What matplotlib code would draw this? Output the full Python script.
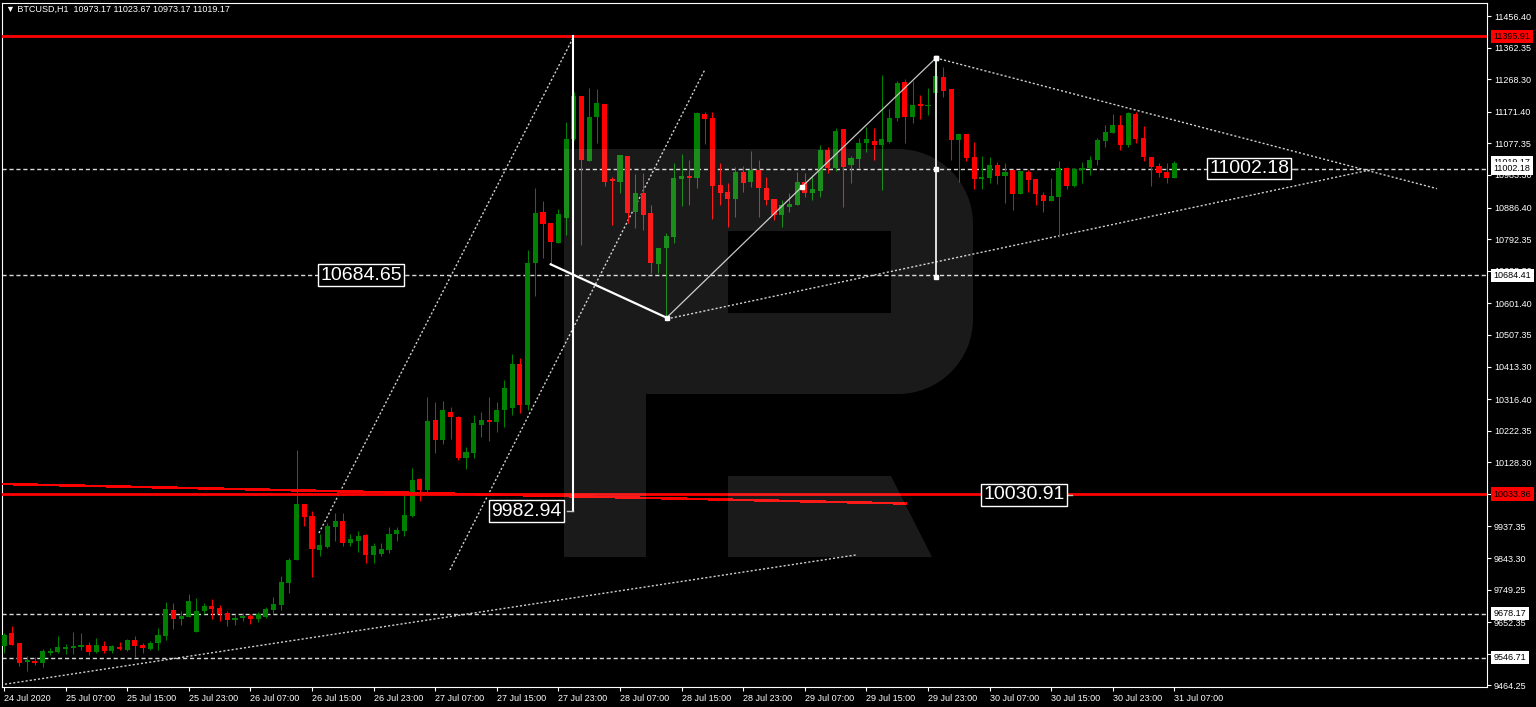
import numpy as np
import pandas as pd
import matplotlib
matplotlib.use('Agg')
import matplotlib.pyplot as plt
from matplotlib.path import Path
from matplotlib.patches import PathPatch
from matplotlib.transforms import IdentityTransform, blended_transform_factory

# BTCUSD H1, bars from 24 Jul 2020 23:00
opens = [9581.5, 9620.0, 9589.5, 9534.0, 9538.0, 9532.0, 9561.6, 9564.5, 9573.4, 9575.0,
         9579.0, 9583.5, 9564.5, 9580.6, 9567.5, 9577.6, 9569.6, 9599.4, 9584.6, 9573.0,
         9590.0, 9611.3, 9688.6, 9660.9, 9669.0, 9623.0, 9686.0, 9700.5, 9694.6, 9680.0,
         9658.9, 9663.8, 9669.7, 9660.9, 9669.0, 9688.6, 9703.5, 9769.9, 9836.6, 10004.0,
         9968.0, 9867.0, 9877.0, 9936.5, 9953.5, 9887.0, 9894.0, 9911.0, 9852.3, 9855.0,
         9867.2, 9914.0, 9924.7, 9968.0, 10077.6, 10045.8, 10254.0, 10194.6, 10278.8, 10263.9,
         10142.0, 10155.0, 10239.2, 10254.0, 10248.6, 10283.8, 10290.0, 10420.0, 10300.0, 10720.4,
         10874.0, 10839.5, 10781.7, 10854.3, 11089.5, 11218.3, 11024.9, 11156.7, 11194.5, 10972.0,
         10963.0, 11039.7, 10874.0, 10930.5, 10871.0, 10718.3, 10765.0, 10799.6, 10972.0, 10980.0,
         10975.0, 11163.7, 11152.0, 10953.4, 10931.7, 10911.8, 10993.0, 10963.0, 10998.3, 10945.4,
         10911.8, 10864.2, 10888.9, 10893.9, 10961.5, 10928.7, 10936.5, 11057.6, 11003.2, 11119.1,
         11013.0, 11031.7, 11079.3, 11084.4, 11072.5, 11082.3, 11152.0, 11260.9, 11154.9, 11193.6,
         11188.5, 11226.3, 11273.9, 11238.2, 11087.4, 11105.2, 11035.8, 10970.4, 10975.2, 11012.8,
         10980.2, 10998.3, 10925.8, 10991.0, 10971.3, 10923.7, 10905.8, 10918.6, 11004.9, 10950.4,
         10999.2, 11003.2, 11027.8, 11085.2, 11109.0, 11132.0, 11072.5, 11163.9, 11092.4, 11037.6,
         11010.9, 10991.0, 10973.17]
highs = [9620.0, 9641.0, 9590.0, 9553.0, 9548.0, 9572.0, 9575.0, 9611.0, 9586.6, 9623.0,
         9619.0, 9594.0, 9604.4, 9597.0, 9584.6, 9594.0, 9602.0, 9611.0, 9591.7, 9597.0,
         9634.0, 9712.4, 9709.5, 9685.6, 9736.0, 9723.5, 9708.6, 9720.5, 9702.7, 9685.6,
         9675.8, 9678.8, 9675.8, 9681.7, 9696.5, 9728.5, 9790.0, 9844.3, 10164.8, 10004.0,
         9984.0, 9914.8, 9946.6, 9976.3, 9976.3, 9914.8, 9924.7, 9914.0, 9887.0, 9887.0,
         9936.5, 9936.5, 10030.9, 10110.0, 10082.3, 10323.4, 10308.6, 10311.5, 10293.7, 10266.8,
         10174.7, 10269.0, 10278.8, 10323.4, 10308.6, 10372.0, 10450.0, 10440.0, 10760.0, 10943.6,
         10905.8, 10839.5, 10882.0, 11141.8, 11230.0, 11218.3, 11241.2, 11238.2, 11194.5, 10978.0,
         11042.7, 11039.7, 10985.3, 10988.3, 10893.9, 10765.0, 10809.7, 11018.0, 11046.0, 11028.0,
         11171.6, 11171.6, 11169.8, 11018.0, 10958.5, 11007.9, 11010.0, 11054.6, 11028.0, 10978.0,
         10911.8, 10908.8, 10928.7, 10993.0, 10990.0, 10983.2, 11072.5, 11067.5, 11122.0, 11119.1,
         11039.7, 11092.4, 11125.0, 11122.0, 11280.8, 11178.7, 11263.8, 11268.0, 11262.9, 11221.3,
         11241.2, 11331.4, 11303.7, 11238.2, 11105.2, 11105.2, 11082.3, 11039.7, 11037.6, 11022.8,
         11018.0, 10998.3, 10995.1, 10998.3, 10971.3, 10933.5, 10973.4, 11024.9, 11006.1, 11003.0,
         11022.8, 11039.7, 11092.4, 11132.0, 11164.7, 11161.8, 11171.6, 11171.6, 11129.0, 11037.6,
         11019.8, 11018.0, 11023.67]
lows = [9561.0, 9584.0, 9523.0, 9508.0, 9525.0, 9518.0, 9555.0, 9562.0, 9556.9, 9557.0,
        9569.6, 9554.7, 9560.0, 9562.0, 9562.0, 9569.0, 9567.5, 9548.0, 9562.0, 9569.6,
        9569.6, 9599.4, 9631.0, 9644.0, 9667.0, 9623.0, 9676.0, 9661.0, 9656.8, 9641.0,
        9644.0, 9655.9, 9646.9, 9651.9, 9663.8, 9675.8, 9688.6, 9738.3, 9836.0, 9939.5,
        9787.7, 9850.0, 9874.0, 9893.0, 9880.0, 9880.0, 9862.0, 9829.0, 9827.5, 9850.0,
        9857.0, 9893.0, 9908.9, 9966.0, 10013.9, 10040.8, 10156.8, 10182.7, 10196.6, 10135.0,
        10107.4, 10140.0, 10202.6, 10191.6, 10217.4, 10234.0, 10270.0, 10275.0, 10285.0, 10623.0,
        10737.0, 10717.5, 10780.0, 10804.6, 11087.0, 10774.9, 11024.9, 11077.5, 10950.5, 10834.4,
        10928.7, 10841.2, 10824.6, 10819.5, 10690.6, 10692.5, 10556.8, 10780.0, 10891.0, 10894.0,
        10943.6, 11075.4, 10851.4, 10894.0, 10829.3, 10857.0, 10933.5, 10946.6, 10859.0, 10893.9,
        10849.3, 10829.3, 10874.0, 10893.9, 10918.6, 10908.8, 10918.6, 10990.0, 10996.0, 10887.0,
        10960.3, 11003.2, 11052.5, 11027.8, 10938.6, 11079.3, 11143.9, 11077.5, 11137.0, 11149.0,
        11161.8, 11220.0, 11214.4, 11027.8, 10963.3, 11025.8, 10940.7, 10940.7, 10958.5, 10956.4,
        10899.0, 10879.0, 10925.8, 10933.5, 10894.0, 10874.0, 10905.8, 10800.0, 10940.7, 10948.0,
        10958.5, 10983.2, 11012.8, 11067.5, 11107.0, 11057.6, 11067.5, 11079.3, 11024.0, 10950.5,
        10978.0, 10958.5, 10973.17]
closes = [9614.2, 9584.0, 9531.8, 9540.0, 9532.0, 9566.6, 9567.5, 9577.6, 9579.4, 9583.0,
          9584.0, 9564.5, 9583.5, 9567.5, 9581.5, 9571.7, 9599.4, 9581.5, 9574.7, 9589.4,
          9614.0, 9690.8, 9660.9, 9671.7, 9715.4, 9686.0, 9700.5, 9691.6, 9675.8, 9658.9,
          9665.8, 9669.7, 9661.9, 9675.8, 9691.6, 9706.5, 9771.1, 9837.4, 10004.1, 9966.4,
          9869.0, 9882.0, 9939.6, 9953.5, 9887.0, 9899.0, 9909.8, 9852.3, 9879.0, 9870.0,
          9914.8, 9926.7, 9970.5, 10075.5, 10045.8, 10252.0, 10194.6, 10283.8, 10262.2, 10140.0,
          10159.8, 10244.3, 10254.0, 10248.0, 10283.8, 10349.0, 10420.0, 10298.0, 10720.0, 10871.0,
          10837.4, 10784.7, 10867.0, 11090.3, 11218.3, 11027.8, 11156.7, 11196.5, 10963.0, 10966.0,
          11042.7, 10871.0, 10930.5, 10864.2, 10720.4, 10765.0, 10802.6, 10975.2, 10980.0, 10975.0,
          11168.6, 11149.0, 10950.5, 10928.7, 10911.8, 10993.0, 10960.3, 10998.3, 10943.6, 10908.8,
          10864.2, 10893.9, 10896.9, 10963.3, 10928.7, 10940.7, 11057.6, 11003.2, 11114.0, 11007.9,
          11032.9, 11079.3, 11089.2, 11072.5, 11089.2, 11152.0, 11257.9, 11154.9, 11191.5, 11188.5,
          11190.6, 11277.8, 11234.0, 11087.4, 11105.2, 11032.9, 10970.4, 10978.5, 11012.8, 10980.2,
          10993.0, 10925.8, 10995.1, 10968.3, 10925.8, 10905.8, 10920.7, 11004.9, 10951.4, 11000.2,
          11004.9, 11027.8, 11087.4, 11112.0, 11132.0, 11072.5, 11166.8, 11089.5, 11035.8, 11007.9,
          10988.3, 10973.4, 11019.17]

price_ticks = [11456.40, 11362.35, 11268.30, 11171.40, 11077.35, 10983.30, 10886.40, 10792.35,
               10698.30, 10601.40, 10507.35, 10413.30, 10316.40, 10222.35, 10128.30, 10034.25,
               9937.35, 9843.30, 9749.25, 9652.35, 9558.30, 9464.25]

red_levels = [11395.91, 10033.86]
dash_levels = [11002.18, 10684.41, 9678.17, 9546.71]
bid = 11019.17

# trend lines as (bar, price) pairs
dotted_lines = [
    [(40.9, 9917.7), (73.9, 11390.9)],
    [(57.9, 9807.7), (91.0, 11295.7)],
    [(121.04, 11331.4), (186.1, 10942.6)],
    [(86.06, 10554.7), (177.4, 10998.1)],
    [(0.13, 9467.8), (110.6, 9852.3)],
]
red_slope = [(-0.13, 10063.6), (117.1, 10005.6)]
wave_a = [(71.0, 10717.4), (86.06, 10558.5)]
wave_b = [(86.06, 10558.5), (103.6, 10947.5), (121.04, 11331.4)]
proj1 = [(73.9, 9982.94), (73.9, 11395.91)]
proj2 = [(121.04, 10680.0), (121.04, 11002.18), (121.04, 11331.4)]
chart_labels = [(46.4, 10684.65, None), (161.7, 11002.18, (167.1, 167.9)),
                (132.5, 10030.91, (137.9, 138.7)), (67.8, 9982.94, (73.1, 73.9))]

W, H = 1536, 707
fig = plt.figure(figsize=(W / 100, H / 100), dpi=100, facecolor='black')
ax = fig.add_axes([2 / W, 20 / H, 1485 / W, 684 / H], facecolor='black')
ax.set_xlim(-0.26, 192.6)
ax.set_ylim(9459.5, 11495.1)

o, hi, lo, c = map(np.array, (opens, highs, lows, closes))
idx = np.arange(len(o))
col = np.where(c >= o, '#008000', '#ff0000')
ax.vlines(idx, lo, hi, colors=col, lw=0.75, zorder=3)
ax.bar(idx, np.maximum(np.abs(c - o), 3.0), bottom=np.minimum(o, c), width=0.66,
       color=col, lw=0, zorder=3)

for p in red_levels:
    ax.axhline(p, color='#ff0000', lw=2.0, zorder=4)
for p in dash_levels:
    ax.axhline(p, color='#d8d8d8', lw=1.0, dashes=(3, 2), zorder=2)
(sx, sy) = zip(*red_slope)
ax.plot(sx, sy, color='#ff0000', lw=1.1, antialiased=False, zorder=4)

for seg in dotted_lines:
    xs, ys = zip(*seg)
    ax.plot(xs, ys, color='#d0d0d0', lw=1.0, dashes=(1.5, 1.5), zorder=2)

xs, ys = zip(*wave_a)
ax.plot(xs, ys, color='white', lw=1.6, zorder=5)
xs, ys = zip(*wave_b)
ax.plot(xs, ys, color='#c8c8c8', lw=0.9, zorder=5)
ax.plot(xs, ys, 's', color='white', ms=3.5, zorder=6)
xs, ys = zip(*proj1)
ax.plot(xs, ys, color='white', lw=1.5, zorder=5)
xs, ys = zip(*proj2)
ax.plot(xs, ys, color='white', lw=1.2, zorder=5)
ax.plot(xs, ys, 's', color='white', ms=3.5, zorder=6)

for bx, py, lead in chart_labels:
    ax.text(bx, py, f'{py:.2f}', color='white', fontsize=14, family='Liberation Sans',
            ha='center', va='center', zorder=8,
            bbox=dict(boxstyle='square,pad=0.12', fc='black', ec='white', lw=1))
    if lead:
        ax.plot(lead, [py, py], color='#c0c0c0', lw=1, zorder=7)

# axes, ticks
for s in ax.spines.values():
    s.set_color('white')
    s.set_linewidth(0.8)
ax.yaxis.tick_right()
ax.set_yticks(price_ticks)
ax.set_yticklabels([f'{v:.2f}' for v in price_ticks])
ax.tick_params(axis='y', colors='white', length=3, width=0.8, labelsize=6.5, pad=2)

dates = pd.date_range('2020-07-24 23:00', periods=len(o), freq='h')
xt = idx[::8]
xl = [dates[i].strftime('%d %b %H:%M') for i in xt]
xl[0] = dates[0].strftime('%d %b %Y')
ax.set_xticks(xt)
ax.set_xticklabels(xl)
ax.tick_params(axis='x', colors='white', length=3, width=0.8, labelsize=6.5, pad=2)
for t in ax.get_xticklabels() + ax.get_yticklabels():
    t.set_family(['Liberation Sans', 'DejaVu Sans'])
plt.setp(ax.get_xticklabels(), ha='left')

# price boxes on the scale
tr = blended_transform_factory(ax.transAxes, ax.transData)
boxes = [(bid, 'white', 'black'), (11002.18, 'white', 'black'), (10684.41, 'white', 'black'),
         (9678.17, 'white', 'black'), (9546.71, 'white', 'black'),
         (11395.91, '#ff0000', 'black'), (10033.86, '#ff0000', 'black')]
for p, fc, tc in boxes:
    ax.text(1.0045, p, f'{p:.2f}', transform=tr, color=tc, fontsize=6.5,
            family='Liberation Sans', ha='left', va='center', zorder=20, clip_on=False,
            bbox=dict(boxstyle='square,pad=0.25', fc=fc, ec='none'))

fig.text(6 / W, 1 - 9 / H, '▼ BTCUSD,H1  10973.17 11023.67 10973.17 11019.17',
         color='white', fontsize=6.5, family=['Liberation Sans', 'DejaVu Sans'], va='center')

# watermark "R" (pixel coords, y down)
r, k = 75, 75 * 0.5523
pts = [(564, 149), (898, 149), (898 + k, 149), (973, 224 - k), (973, 224), (973, 319),
       (973, 319 + k), (898 + k, 394), (898, 394), (646, 394), (646, 557), (564, 557), (564, 149),
       (728, 231), (728, 313), (891, 313), (891, 231), (728, 231),
       (728, 476), (891, 476), (932, 557), (728, 557), (728, 476)]
codes = [Path.MOVETO, Path.LINETO, Path.CURVE4, Path.CURVE4, Path.CURVE4, Path.LINETO,
         Path.CURVE4, Path.CURVE4, Path.CURVE4, Path.LINETO, Path.LINETO, Path.LINETO, Path.CLOSEPOLY,
         Path.MOVETO, Path.LINETO, Path.LINETO, Path.LINETO, Path.CLOSEPOLY,
         Path.MOVETO, Path.LINETO, Path.LINETO, Path.LINETO, Path.CLOSEPOLY]
verts = [(x, H - y) for x, y in pts]
logo = PathPatch(Path(verts, codes), transform=IdentityTransform(), fc='white', ec='none',
                 alpha=0.105, zorder=10)
fig.add_artist(logo)

fig.savefig('out.png', dpi=100, facecolor='black')
